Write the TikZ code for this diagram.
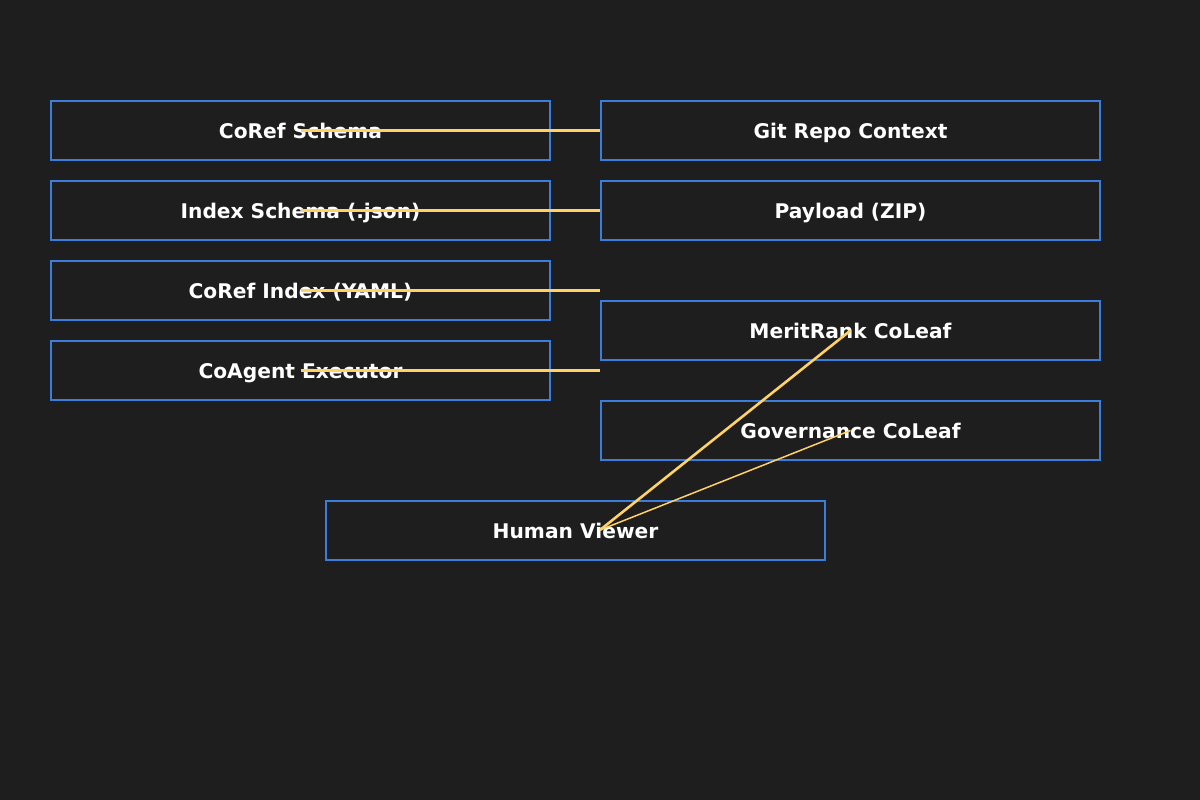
\documentclass[tikz,border=0pt]{standalone}
\usepackage{fontspec}
\setmainfont{DejaVu Sans}
\definecolor{bg}{HTML}{1E1E1E}
\definecolor{boxblue}{HTML}{3B7DDD}
\definecolor{linkyel}{HTML}{FFD166}
\begin{document}
\begin{tikzpicture}[x=1pt,y=-1pt,
  box/.style={draw=boxblue,line width=1.6pt,fill=bg,minimum width=499pt,minimum height=59pt,inner sep=0pt,
    text=white,font=\fontsize{20.2}{23}\selectfont\bfseries,text height=16.4pt,text depth=0pt},
  link/.style={draw=linkyel,line width=2.6pt},
  thinlink/.style={draw=linkyel,line width=1.5pt}]
\fill[bg] (0,0) rectangle (1200,800);
\useasboundingbox (0,0) rectangle (1200,800);
\node[box] (coref) at (300.5,130.5) {CoRef Schema};
\node[box] (idxs) at (300.5,210.5) {Index Schema (.json)};
\node[box] (idx) at (300.5,290.5) {CoRef Index (YAML)};
\node[box] (exec) at (300.5,370.5) {CoAgent Executor};
\node[box] (git) at (850.5,130.5) {Git Repo Context};
\node[box] (zip) at (850.5,210.5) {Payload (ZIP)};
\node[box] (merit) at (850.5,330.5) {MeritRank CoLeaf};
\node[box] (gov) at (850.5,430.5) {Governance CoLeaf};
\node[box] (human) at (575.5,530.5) {Human Viewer};
\coordinate (idxend) at (600,290.5);
\coordinate (execend) at (600,370.5);
\coordinate (hv) at (600,530);
\draw[link] (coref.center) -- (git.west);
\draw[link] (idxs.center) -- (zip.west);
\draw[link] (idx.center) -- (idxend);
\draw[link] (exec.center) -- (execend);
\draw[link] (hv) -- (merit.center);
\draw[thinlink] (hv) -- (gov.center);
\end{tikzpicture}
\end{document}
